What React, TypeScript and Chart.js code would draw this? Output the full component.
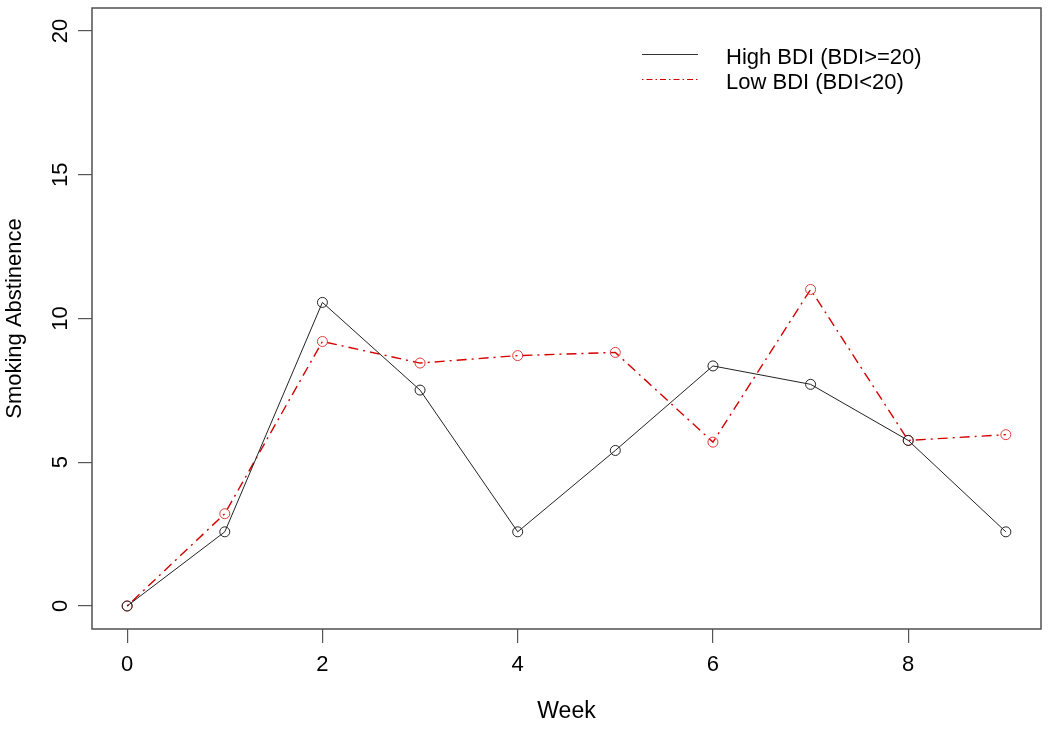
import { useEffect, useRef } from 'react';
import { Chart, registerables } from 'chart.js';

Chart.register(...registerables);

const weeks = [0, 1, 2, 3, 4, 5, 6, 7, 8, 9];
const highBDI = [0, 2.58, 10.56, 7.51, 2.58, 5.41, 8.35, 7.71, 5.76, 2.58];
const lowBDI = [0, 3.21, 9.2, 8.45, 8.71, 8.82, 5.7, 11.01, 5.76, 5.96];
const xTicks = [0, 2, 4, 6, 8];
const yTicks = [0, 5, 10, 15, 20];
const seriesLabels = ['High BDI (BDI>=20)', 'Low BDI (BDI<20)'];
const xTitle = 'Week';
const yTitle = 'Smoking Abstinence';

const FONT = '"Liberation Sans", Arial, Helvetica, sans-serif';
const BLACK = '#222222';
const RED_LINE = '#d40000';
const RED_PT = '#e23a3a';
const RED_DASH = [2, 5, 10, 5];

const boxPlugin = {
  id: 'rbox',
  afterDraw(chart: any) {
    const { ctx, chartArea: a } = chart;
    ctx.save();
    ctx.strokeStyle = '#505050';
    ctx.lineWidth = 1.5;
    ctx.strokeRect(a.left, a.top, a.right - a.left, a.bottom - a.top);
    ctx.restore();
  },
};

const legendPlugin = {
  id: 'rlegend',
  afterDraw(chart: any) {
    const { ctx } = chart;
    const rows = [
      { label: seriesLabels[0], color: '#333', dash: [] as number[], lineY: 54, textY: 58 },
      { label: seriesLabels[1], color: RED_LINE, dash: [1.5, 3, 6, 3], lineY: 79, textY: 83 },
    ];
    ctx.save();
    rows.forEach((r) => {
      ctx.beginPath();
      ctx.strokeStyle = r.color;
      ctx.lineWidth = 1;
      ctx.setLineDash(r.dash);
      ctx.moveTo(642, r.lineY + 0.5);
      ctx.lineTo(698, r.lineY + 0.5);
      ctx.stroke();
      ctx.setLineDash([]);
      ctx.fillStyle = '#000';
      ctx.font = `22px ${FONT}`;
      ctx.textAlign = 'left';
      ctx.textBaseline = 'middle';
      ctx.fillText(r.label, 726, r.textY);
    });
    ctx.restore();
  },
};

export default function App() {
  const ref = useRef<HTMLCanvasElement | null>(null);

  useEffect(() => {
    if (!ref.current) return;
    const chart = new Chart(ref.current, {
      type: 'line',
      data: {
        datasets: [
          {
            label: seriesLabels[0],
            data: weeks.map((w, i) => ({ x: w, y: highBDI[i] })),
            borderColor: BLACK,
            borderWidth: 1,
            pointRadius: 5,
            pointBorderWidth: 1,
            pointBorderColor: BLACK,
            pointBackgroundColor: 'rgba(0,0,0,0)',
            tension: 0,
          },
          {
            label: seriesLabels[1],
            data: weeks.map((w, i) => ({ x: w, y: lowBDI[i] })),
            borderColor: RED_LINE,
            borderWidth: 1.4,
            borderDash: RED_DASH,
            pointRadius: 5,
            pointBorderWidth: 1,
            pointBorderColor: RED_PT,
            pointBackgroundColor: 'rgba(0,0,0,0)',
            tension: 0,
          },
        ],
      },
      options: {
        responsive: false,
        animation: false,
        layout: { padding: { top: 8, right: 9, left: 0, bottom: 0 } },
        plugins: {
          legend: { display: false },
          tooltip: { enabled: false },
        },
        scales: {
          x: {
            type: 'linear',
            min: -0.36,
            max: 9.36,
            afterBuildTicks: (s: any) => {
              s.ticks = xTicks.map((v) => ({ value: v }));
            },
            afterFit: (s: any) => {
              s.height = 103;
              s.paddingLeft = 0;
              s.paddingRight = 0;
            },
            border: { display: false },
            grid: {
              drawOnChartArea: false,
              drawTicks: true,
              tickLength: 14,
              color: '#555555',
              lineWidth: 1.2,
            },
            ticks: {
              autoSkip: false,
              maxRotation: 0,
              minRotation: 0,
              padding: 9,
              color: '#000',
              font: { family: FONT, size: 22 },
              callback: (v: any) => String(v),
            },
            title: {
              display: true,
              text: xTitle,
              color: '#000',
              font: { family: FONT, size: 23 },
              padding: { top: 0, bottom: 7 },
            },
          },
          y: {
            type: 'linear',
            min: -0.8,
            max: 20.8,
            afterBuildTicks: (s: any) => {
              s.ticks = yTicks.map((v) => ({ value: v }));
            },
            afterFit: (s: any) => {
              s.width = 92;
              s.paddingTop = 0;
              s.paddingBottom = 0;
            },
            border: { display: false },
            grid: {
              drawOnChartArea: false,
              drawTicks: true,
              tickLength: 14,
              color: '#555555',
              lineWidth: 1.2,
            },
            ticks: {
              autoSkip: false,
              minRotation: 90,
              maxRotation: 90,
              crossAlign: 'center',
              padding: 5,
              color: '#000',
              font: { family: FONT, size: 22 },
              callback: (v: any) => String(v),
            },
            title: {
              display: true,
              text: yTitle,
              color: '#000',
              font: { family: FONT, size: 22 },
              padding: { top: 2, bottom: 0 },
            },
          },
        },
      },
      plugins: [boxPlugin, legendPlugin],
    } as any);
    return () => chart.destroy();
  }, []);

  return (
    <div style={{ position: 'fixed', left: 0, top: 0, width: 1050, height: 732, background: '#fff' }}>
      <canvas ref={ref} width={1050} height={732} style={{ display: 'block' }} />
    </div>
  );
}
